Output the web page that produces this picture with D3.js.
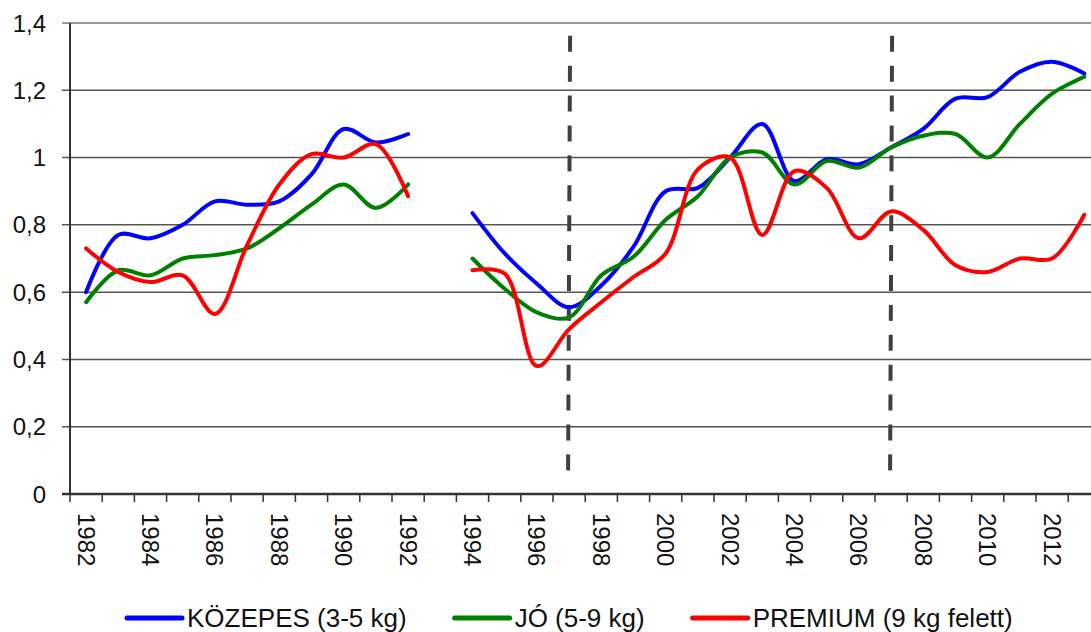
<!DOCTYPE html>
<meta charset="utf-8">
<script src="https://cdn.jsdelivr.net/npm/d3@7"></script>
<style>
body { margin: 0; background: #fff; font-family: "Liberation Sans", Arial, sans-serif; }
.grid line { stroke: #555; stroke-width: 1.5px; }
.axisline { stroke: #333; }
.ylab { font-size: 24px; fill: #111; }
.xlab { font-size: 24px; fill: #111; }
.legend text { font-size: 26px; fill: #111; }
</style>
<body>
<script>

// years on the x axis (1993 has no data)
var years = d3.range(1982, 2014);

var kozepes = [0.60, 0.77, 0.76, 0.80, 0.87, 0.86, 0.87, 0.95, 1.085, 1.045, 1.07,
  null, 0.835, 0.715, 0.625, 0.555, 0.62, 0.735, 0.90, 0.91, 1.0, 1.10,
  0.93, 0.995, 0.98, 1.03, 1.085, 1.175, 1.18, 1.255, 1.285, 1.25];

var jo = [0.57, 0.665, 0.65, 0.70, 0.71, 0.73, 0.79, 0.86, 0.92, 0.85, 0.92,
  null, 0.70, 0.61, 0.54, 0.525, 0.65, 0.705, 0.815, 0.885, 1.0, 1.015,
  0.92, 0.99, 0.97, 1.03, 1.065, 1.07, 1.0, 1.10, 1.19, 1.24];

var premium = [0.73, 0.66, 0.63, 0.65, 0.535, 0.74, 0.92, 1.01, 1.0, 1.04, 0.885,
  null, 0.665, 0.655, 0.38, 0.49, 0.57, 0.645, 0.715, 0.965, 1.0, 0.77,
  0.96, 0.91, 0.76, 0.84, 0.785, 0.68, 0.66, 0.70, 0.70, 0.83];

var seriesNames = ["KÖZEPES (3-5 kg)", "JÓ (5-9 kg)", "PREMIUM (9 kg felett)"];
var seriesColors = ["#0000ff", "#008000", "#ff0000"];
var yTicks = [0, 0.2, 0.4, 0.6, 0.8, 1, 1.2, 1.4];
var dividerYears = [1997, 2007];

var w = 1091, h = 632;
var plotLeft = 70, plotTop = 23, plotBottom = 494;

var svg = d3.select("body").append("svg")
  .attr("width", w).attr("height", h);

var x = d3.scaleBand().domain(years).range([plotLeft, plotLeft + years.length * 32.2]);
var y = d3.scaleLinear().domain([0, 1.4]).range([plotBottom, plotTop]);
var cx = function(d) { return x(d) + x.bandwidth() / 2; };

var fmt = d3.formatLocale({decimal: ",", thousands: " ", grouping: [3], currency: ["", ""]}).format(".1~f");

// horizontal grid
svg.append("g").attr("class", "grid")
  .selectAll("line").data(yTicks).enter().append("line")
    .attr("x1", plotLeft - 8).attr("x2", w + 20)
    .attr("y1", function(d) { return y(d); })
    .attr("y2", function(d) { return y(d); })
    .style("stroke", function(d) { return d == 1.4 ? "#999" : null; })
    .style("stroke-width", function(d) { return d == 1.4 ? "2px" : null; });

svg.append("g").selectAll("text").data(yTicks).enter().append("text")
  .attr("class", "ylab")
  .attr("x", 46).attr("y", function(d) { return y(d); })
  .attr("text-anchor", "end").attr("dominant-baseline", "central")
  .text(fmt);

// axes
svg.append("line").attr("class", "axisline")
  .attr("x1", plotLeft).attr("x2", plotLeft).attr("y1", y(1.4)).attr("y2", plotBottom)
  .style("stroke-width", "2px");
svg.append("line").attr("class", "axisline")
  .attr("x1", plotLeft - 8).attr("x2", w + 20).attr("y1", plotBottom).attr("y2", plotBottom)
  .style("stroke-width", "2.5px");

svg.append("g").selectAll("line").data(years).enter().append("line")
  .attr("class", "axisline")
  .attr("x1", function(d) { return x(d); }).attr("x2", function(d) { return x(d); })
  .attr("y1", plotBottom).attr("y2", plotBottom + 8)
  .style("stroke-width", "1.5px");

svg.append("g").selectAll("text").data(years.filter(function(d) { return d % 2 == 0; }))
  .enter().append("text")
    .attr("class", "xlab")
    .attr("transform", function(d) { return "translate(" + cx(d) + "," + 513 + ") rotate(90)"; })
    .attr("dominant-baseline", "central")
    .text(function(d) { return d; });

// dashed period markers
svg.append("g").selectAll("line").data(dividerYears).enter().append("line")
  .attr("x1", function(d) { return cx(d) + 1; })
  .attr("x2", function(d) { return cx(d) - 1; })
  .attr("y1", y(1.362)).attr("y2", y(0.07))
  .style("stroke", "#404040").style("stroke-width", "4px")
  .style("stroke-dasharray", "16,13.9");

// lines
var line = d3.line()
  .defined(function(d) { return d[1] != null; })
  .x(function(d) { return cx(d[0]); })
  .y(function(d) { return y(d[1]); })
  .curve(d3.curveCatmullRom.alpha(0.5));

[kozepes, jo, premium].forEach(function(vals, i) {
  svg.append("path")
    .datum(years.map(function(yr, j) { return [yr, vals[j]]; }))
    .attr("d", line)
    .style("fill", "none")
    .style("stroke", seriesColors[i])
    .style("stroke-width", "4px")
    .style("stroke-linejoin", "round")
    .style("stroke-linecap", "round");
});

// legend
var lg = svg.append("g").attr("class", "legend");
var lx = 127;
seriesNames.forEach(function(name, i) {
  lg.append("line")
    .attr("x1", lx).attr("x2", lx + 55).attr("y1", 618).attr("y2", 618)
    .style("stroke", seriesColors[i]).style("stroke-width", "5px")
    .style("stroke-linecap", "round");
  var t = lg.append("text").attr("x", lx + 60).attr("y", 627).text(name);
  lx = lx + 60 + t.node().getComputedTextLength() + 48;
});

</script>
</body>
